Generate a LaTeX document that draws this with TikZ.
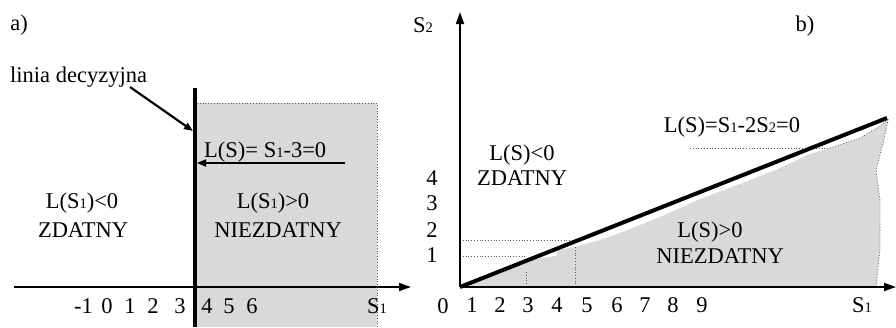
\documentclass[tikz,border=0pt]{standalone}
\usepackage{fontspec}
\setmainfont{Liberation Serif}
\usetikzlibrary{arrows.meta}
\newcommand{\sbx}[1]{{\fontsize{14.5}{15}\selectfont #1}}
\definecolor{regiongray}{RGB}{217,217,219}
\definecolor{dotgray}{RGB}{90,90,90}
\tikzset{
  lbl/.style={inner sep=0pt, font=\fontsize{22.5}{25}\selectfont},
  axisline/.style={line width=1.8pt, -{Triangle[length=12pt,width=8pt]}},
  decline/.style={line width=4pt},
  pointer/.style={line width=2.2pt, -{Triangle[length=9pt,width=7pt]}},
  guide/.style={dotgray, line width=0.8pt, dotted},
}
\begin{document}
\begin{tikzpicture}[x=1pt,y=-1pt]
\useasboundingbox (0,0) rectangle (896,327);
% ---------- panel a ----------
\fill[regiongray] (197,103) rectangle (377,327);
\draw[guide] (197,103) -- (377,103) -- (377,327);
\coordinate (axAstart) at (14,287);
\coordinate (axAend) at (411,287);
\draw[axisline] (axAstart) -- (axAend);
\coordinate (decTop) at (195,88);
\coordinate (decBot) at (195,327);
\draw[decline] (decTop) -- (decBot);
\node[lbl] (lblA) at (19,25) {a)};
\node[lbl, anchor=west] (linia) at (10,77) {linia decyzyjna};
\coordinate (liniaEnd) at (193,131);
\draw[pointer] (130,87) -- (liniaEnd);
\node[lbl, anchor=west] (eqA) at (204,152) {L(S)= S\sbx{1}-3=0};
\coordinate (eqAstart) at (345,163);
\coordinate (eqAend) at (197,163);
\draw[pointer, line width=1.8pt] (eqAstart) -- (eqAend);
\node[lbl] (ltA) at (82,203) {L(S\sbx{1})<0};
\node[lbl] (zdA) at (83,230) {ZDATNY};
\node[lbl] (gtA) at (273,203) {L(S\sbx{1})>0};
\node[lbl] (nzA) at (278,230) {NIEZDATNY};
\node[lbl, anchor=east] (tickA1) at (93,306) {-1};
\foreach \t/\x [count=\i from 2] in {0/107,1/130,2/153,3/180,4/207,5/229,6/252}
  \node[lbl] (tickA\i) at (\x,306) {\t};
\node[lbl] (s1A) at (377,306) {S\sbx{1}};
% ---------- panel b ----------
\fill[regiongray] (462,287) -- (500,272) -- (540,258) -- (556,256) -- (558,250)
  -- (575,247) -- (600,240) -- (620,233) -- (660,217) -- (700,199) -- (740,184)
  -- (780,168) -- (810,154) -- (830,148) -- (860,138) -- (880,126) -- (888,120)
  -- (884,140) -- (876,170) -- (880,200) -- (880,250) -- (876,287) -- cycle;
\draw[guide] (830,148) -- (860,138) -- (880,126) -- (888,120)
  -- (884,140) -- (876,170) -- (880,200) -- (880,250) -- (876,287);
\draw[guide] (690,148) -- (830,148);
\draw[guide] (460,240) -- (575,240);
\draw[guide] (460,256) -- (526,256);
\draw[guide] (526,272) -- (526,287);
\draw[guide] (575,247) -- (575,287);
\coordinate (origB) at (460,287);
\coordinate (yTop) at (460,12);
\coordinate (xEnd) at (896,287);
\draw[axisline] (origB) -- (yTop);
\draw[axisline] (origB) -- (xEnd);
\coordinate (decEnd) at (887,118);
\draw[decline] (origB) -- (decEnd);
\node[lbl] (s2) at (423,25) {S\sbx{2}};
\node[lbl] (lblB) at (805,26) {b)};
\node[lbl] (eqB) at (732,127) {L(S)=S\sbx{1}-2S\sbx{2}=0};
\node[lbl] (ltB) at (522,155) {L(S)<0};
\node[lbl] (zdB) at (522,178) {ZDATNY};
\node[lbl] (gtB) at (710,232) {L(S)>0};
\node[lbl] (nzB) at (720,256) {NIEZDATNY};
\foreach \t/\y [count=\i] in {4/178,3/203,2/230,1/255}
  \node[lbl] (tickY\i) at (432,\y) {\t};
\node[lbl] (zeroB) at (443,306) {0};
\foreach \t/\x [count=\i] in {1/472,2/500,3/528,4/557,5/587,6/617,7/645,8/673,9/702}
  \node[lbl] (tickB\i) at (\x,305) {\t};
\node[lbl] (s1B) at (862,305) {S\sbx{1}};
\end{tikzpicture}
\end{document}
